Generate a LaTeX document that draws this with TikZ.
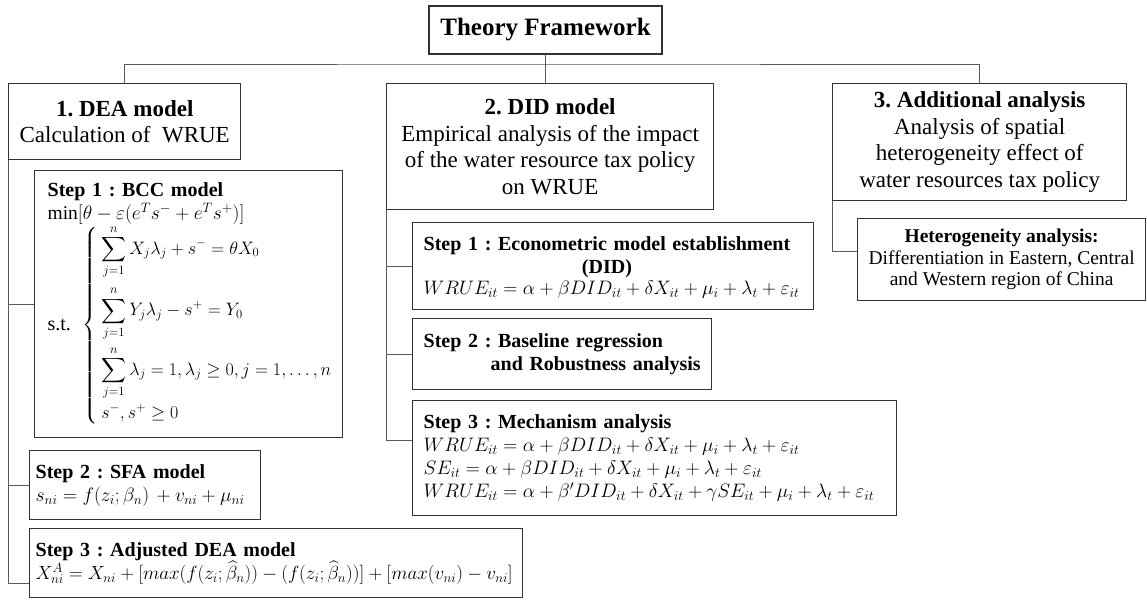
\RequirePackage{fix-cm}
\documentclass[tikz,border=0pt]{standalone}
\usepackage{amsmath}
\usepackage{fontspec}
\setmainfont{Liberation Serif}
\usetikzlibrary{calc}
\newcommand{\titlesize}{\fontsize{25}{30}\selectfont}
\newcommand{\mainsize}{\fontsize{23}{26.5}\selectfont}
\newcommand{\stepsize}{\fontsize{20}{23}\selectfont}
\newcommand{\hetsize}{\fontsize{19.5}{21.5}\selectfont}
\newcommand{\eqln}[2][19.5]{\mbox{\fontsize{#1}{23}\selectfont$#2$}}
\begin{document}
\frenchspacing
\begin{tikzpicture}[x=1pt, y=-1pt,
    box/.style={draw=black!80, line width=1.3pt, anchor=north west,
      inner xsep=11pt, inner ysep=2pt},
    head/.style={box, align=center, font=\mainsize},
    stepbox/.style={box, align=left, font=\stepsize},
    link/.style={draw=black!65, line width=0.8pt}]
  \useasboundingbox (0,0) rectangle (1147,600);
  % top level
  \node [box, anchor=center, minimum width=233pt, minimum height=48pt,
    font=\titlesize\bfseries] (title) at (545.5,30) {Theory Framework};
  \node [head, minimum width=227pt, minimum height=76pt] (dea) at (8,83)
    {\textbf{1. DEA model}\\Calculation of~ WRUE};
  \node [head, minimum width=327pt, minimum height=126pt] (did) at (386,83)
    {\textbf{2. DID model}\\Empirical analysis of the impact\\of the
      water resource tax policy\\on WRUE};
  \node [head, minimum width=294pt, minimum height=117pt] (add) at (832,83)
    {\textbf{3. Additional analysis}\\Analysis of spatial\\heterogeneity
      effect of\\water resources tax policy};
  % DEA steps
  \node [stepbox, inner xsep=13pt, text width=282pt, minimum height=267pt]
    (bcc) at (34,170) {\textbf{Step 1 : BCC model}\\
      \eqln{\min[\theta-\varepsilon(e^Ts^-+e^Ts^+)]}\\
      \mbox{s.t.\hspace{12pt}\fontsize{18}{20}\selectfont
      $\renewcommand{\arraystretch}{1.3}\left\{\begin{array}{@{\,}l}
        \displaystyle\sum_{j=1}^{n}X_j\lambda_j+s^-=\theta X_0\\
        \noalign{\vskip 8pt}
        \displaystyle\sum_{j=1}^{n}Y_j\lambda_j-s^+=Y_0\\
        \noalign{\vskip 6pt}
        \displaystyle\sum_{j=1}^{n}\lambda_j=1,\lambda_j\geq0,j=1,\ldots,n\\
        s^-,s^+\geq0
      \end{array}\right.$}};
  \node [stepbox, inner xsep=6pt, text width=219pt, minimum height=69pt]
    (sfa) at (29,450) {\textbf{Step 2 : SFA model}\\
      \eqln{s_{ni}=f(z_i;\beta_n)\,+v_{ni}+\mu_{ni}}};
  \node [stepbox, inner xsep=6pt, text width=481pt, minimum height=69pt]
    (adj) at (29,528) {\textbf{Step 3 : Adjusted DEA model}\\
      \eqln[19]{X^A_{ni}=X_{ni}+[max(f(z_i;\widehat{\beta}_n))-(f(z_i;\widehat{\beta}_n))]
      +[max(v_{ni})-v_{ni}]}};
  % DID steps
  \node [stepbox, text width=379pt, minimum height=87pt] (est) at (412,222)
    {\begin{tabular}{@{}c@{}}\textbf{Step 1 : Econometric model establishment}\\
      \textbf{(DID)}\end{tabular}\\
      \eqln{WRUE_{it}=\alpha+\beta DID_{it}+\delta X_{it}+\mu_i+\lambda_t+\varepsilon_{it}}};
  \node [stepbox, text width=277pt, minimum height=71pt] (base) at (412,318)
    {\textbf{Step 2 : Baseline regression}\\
      \mbox{\hspace*{67pt}\textbf{and Robustness analysis}}};
  \node [stepbox, text width=462pt, minimum height=115pt] (mech) at (412,400)
    {\textbf{Step 3 : Mechanism analysis}\\
      \eqln{WRUE_{it}=\alpha+\beta DID_{it}+\delta X_{it}+\mu_i+\lambda_t+\varepsilon_{it}}\\
      \eqln{SE_{it}=\alpha+\beta DID_{it}+\delta X_{it}+\mu_i+\lambda_t+\varepsilon_{it}}\\
      \eqln{WRUE_{it}=\alpha+\beta'DID_{it}+\delta X_{it}+\gamma SE_{it}+\mu_i
      +\lambda_t+\varepsilon_{it}}};
  % additional analysis
  \node [box, align=center, font=\hetsize, minimum width=286pt,
    minimum height=82pt] (het) at (857,218)
    {\textbf{Heterogeneity analysis:}\\Differentiation in Eastern, Central\\
      and Western region of China};
  % connectors
  \coordinate (bus) at (545.5,64);
  \draw [link] (title.south) -- (title.south |- did.north);
  \draw [link] (dea.north) |- (bus) -| (add.north);
  \draw [link] (dea.south west) |- ([yshift=-20pt]adj.west);
  \draw [link] (dea.south west |- bcc.west) -- (bcc.west);
  \draw [link] (dea.south west |- sfa.west) -- (sfa.west);
  \draw [link] (did.south west) |- ([yshift=17.5pt]mech.west);
  \draw [link] (did.south west |- est.west) -- (est.west);
  \draw [link] (did.south west |- base.west) -- (base.west);
  \draw [link] (add.south west) |- ([yshift=8pt]het.west);
\end{tikzpicture}
\end{document}
